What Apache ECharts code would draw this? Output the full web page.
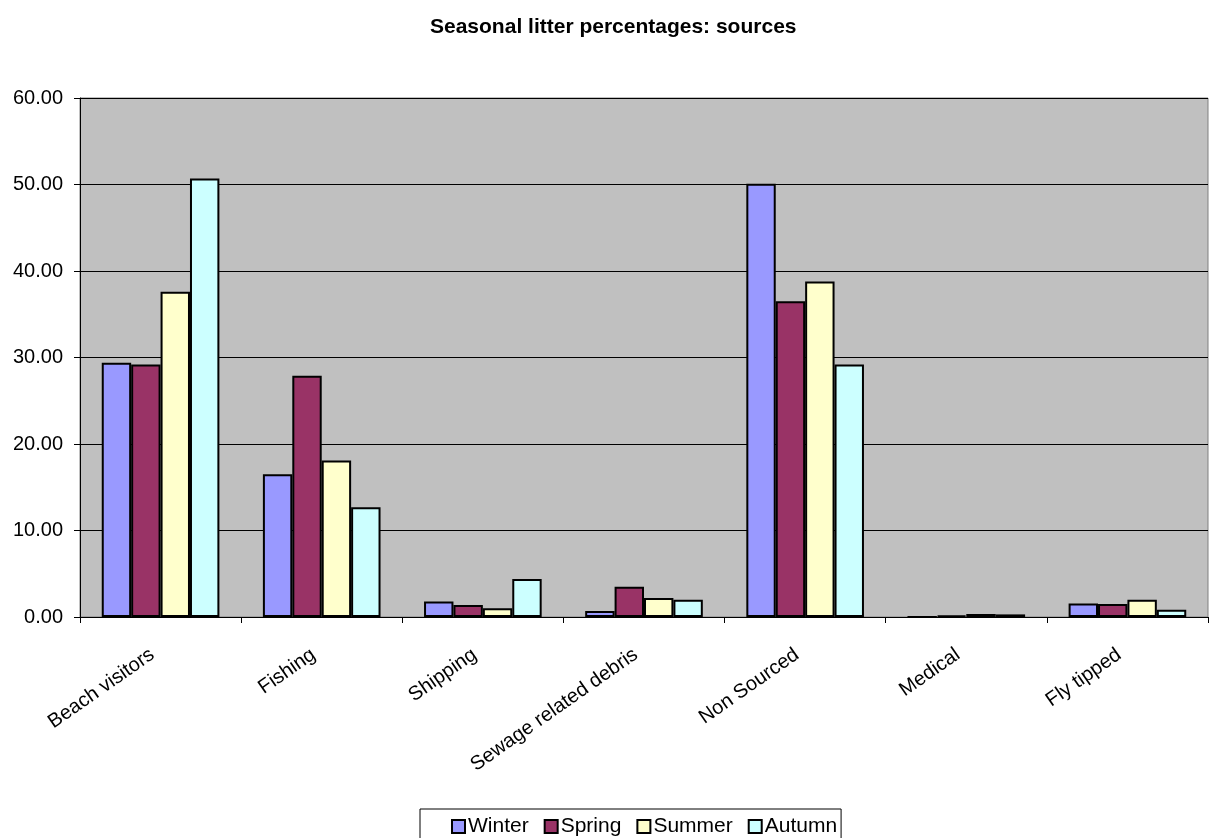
<!DOCTYPE html>
<html>
<head>
<meta charset="utf-8">
<script src="https://cdn.jsdelivr.net/npm/echarts@6/dist/echarts.min.js"></script>
<style>
  html, body { margin: 0; padding: 0; background: #ffffff; }
  #chart { width: 1209px; height: 838px; }
</style>
</head>
<body>
<div id="chart"></div>
<script>
// Litter sources by season (percent of items found)
const categories = ['Beach visitors', 'Fishing', 'Shipping', 'Sewage related debris', 'Non Sourced', 'Medical', 'Fly tipped'];
const winter = [29.4, 16.5, 1.8, 0.7, 50.1, 0.0, 1.55];
const spring = [29.2, 27.9, 1.4, 3.5, 36.5, 0.15, 1.5];
const summer = [37.6, 18.1, 1.0, 2.2, 38.8, 0.35, 2.0];
const autumn = [50.7, 12.7, 4.4, 2.0, 29.2, 0.3, 0.85];
const yTicks = [0, 10, 20, 30, 40, 50, 60];

const seriesDefs = [
  { name: 'Winter', data: winter, color: '#9999FF' },
  { name: 'Spring', data: spring, color: '#993366' },
  { name: 'Summer', data: summer, color: '#FFFFCC' },
  { name: 'Autumn', data: autumn, color: '#CCFFFF' }
];

const font = 'Arial, "Liberation Sans", sans-serif';
const chart = echarts.init(document.getElementById('chart'), null, { renderer: 'canvas' });

chart.setOption({
  animation: false,
  backgroundColor: '#ffffff',
  textStyle: { fontFamily: font, color: '#000' },
  title: {
    text: 'Seasonal litter percentages: sources',
    left: 425,
    top: 12,
    textStyle: { fontFamily: font, fontSize: 21, fontWeight: 'bold', color: '#000' }
  },
  legend: {
    left: 420,
    top: 809,
    itemGap: 15,
    itemWidth: 13,
    itemHeight: 13,
    icon: 'rect',
    padding: [7, 4, 10, 31],
    borderColor: '#000',
    borderWidth: 1,
    textStyle: { fontFamily: font, fontSize: 21, color: '#000', padding: [0, 0, 0, -2] },
    data: seriesDefs.map(s => s.name)
  },
  grid: {
    left: 80,
    right: 1,
    top: 98,
    bottom: 221,
    show: true,
    backgroundColor: '#C0C0C0',
    borderColor: '#808080',
    borderWidth: 1
  },
  xAxis: {
    type: 'category',
    data: categories,
    boundaryGap: true,
    axisLine: { show: true, lineStyle: { color: '#000', width: 1 } },
    axisTick: { show: true, length: 6, alignWithLabel: false, lineStyle: { color: '#000' } },
    axisLabel: {
      rotate: 35,
      interval: 0,
      margin: 30,
      padding: [0, 10, 0, 0],
      fontFamily: font,
      fontSize: 20,
      color: '#000'
    },
    splitLine: { show: false }
  },
  yAxis: {
    type: 'value',
    min: yTicks[0],
    max: yTicks[yTicks.length - 1],
    interval: 10,
    axisLine: { show: true, lineStyle: { color: '#000', width: 1 } },
    axisTick: { show: true, length: 6, lineStyle: { color: '#000' } },
    axisLabel: {
      margin: 17,
      fontFamily: font,
      fontSize: 20,
      color: '#000',
      formatter: v => v.toFixed(2)
    },
    splitLine: { show: true, lineStyle: { color: '#000', width: 1 } }
  },
  series: seriesDefs.map(s => ({
    name: s.name,
    type: 'bar',
    data: s.data,
    barGap: '0%',
    barCategoryGap: '27%',
    itemStyle: { color: s.color, borderColor: '#000', borderWidth: 2 }
  }))
});
</script>
</body>
</html>
